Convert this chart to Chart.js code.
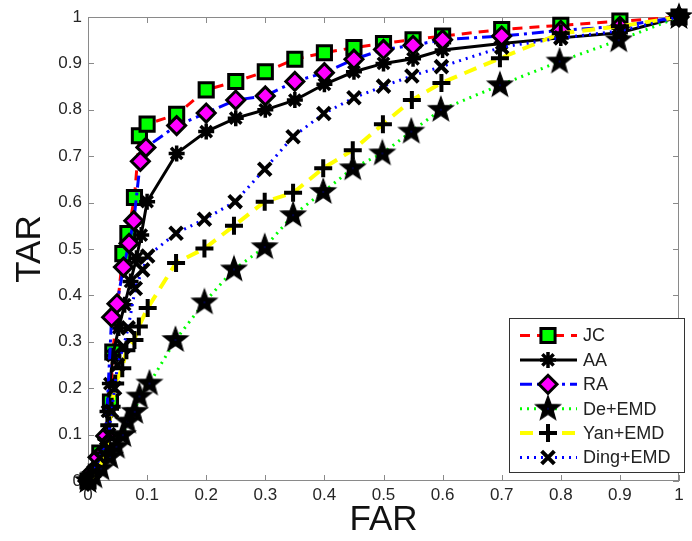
<!DOCTYPE html>
<html><head><meta charset="utf-8">
<script src="https://cdn.jsdelivr.net/npm/chart.js"></script>
<style>html,body{margin:0;padding:0;background:#fff}</style>
</head><body>
<canvas id="c" width="692" height="541"></canvas>
<script>
// ---- data ----
const seriesNames = ['JC', 'AA', 'RA', 'De+EMD', 'Yan+EMD', 'Ding+EMD'];

const jcFar = [0, 0.02, 0.038, 0.042, 0.059, 0.0675, 0.0786, 0.087, 0.1, 0.15, 0.2, 0.25, 0.3, 0.35, 0.4, 0.45, 0.5, 0.55, 0.6, 0.7, 0.8, 0.9, 1];
const jcTar = [0, 0.06, 0.17, 0.278, 0.49, 0.533, 0.611, 0.744, 0.769, 0.79, 0.843, 0.861, 0.882, 0.909, 0.923, 0.934, 0.943, 0.951, 0.959, 0.973, 0.982, 0.991, 1];

const aaFar = [0, 0.01, 0.02, 0.03, 0.033, 0.037, 0.042, 0.052, 0.062, 0.072, 0.082, 0.09, 0.1, 0.15, 0.2, 0.25, 0.3, 0.35, 0.4, 0.45, 0.5, 0.55, 0.6, 0.7, 0.8, 0.9, 1];
const aaTar = [0, 0.02, 0.05, 0.09, 0.15, 0.21, 0.27, 0.33, 0.38, 0.43, 0.48, 0.53, 0.602, 0.706, 0.753, 0.782, 0.80, 0.821, 0.855, 0.882, 0.90, 0.91, 0.929, 0.943, 0.955, 0.966, 1];

const raFar = [0, 0.008, 0.017, 0.03, 0.04, 0.049, 0.06, 0.0695, 0.0775, 0.0886, 0.098, 0.15, 0.2, 0.25, 0.3, 0.35, 0.4, 0.45, 0.5, 0.55, 0.6, 0.7, 0.8, 0.9, 1];
const raTar = [0, 0.02, 0.051, 0.097, 0.353, 0.382, 0.461, 0.512, 0.561, 0.689, 0.719, 0.766, 0.793, 0.821, 0.83, 0.861, 0.88, 0.909, 0.93, 0.939, 0.951, 0.959, 0.971, 0.98, 1];

const deFar = [0, 0.01, 0.022, 0.037, 0.048, 0.059, 0.067, 0.079, 0.087, 0.104, 0.148, 0.197, 0.247, 0.299, 0.347, 0.398, 0.448, 0.498, 0.547, 0.597, 0.697, 0.798, 0.898, 1];
const deTar = [0, 0.01, 0.027, 0.052, 0.074, 0.099, 0.128, 0.149, 0.182, 0.21, 0.304, 0.385, 0.456, 0.504, 0.573, 0.623, 0.674, 0.706, 0.753, 0.80, 0.853, 0.904, 0.95, 1];

const yanFar = [0, 0.015, 0.03, 0.036, 0.04, 0.046, 0.058, 0.065, 0.0786, 0.086, 0.101, 0.149, 0.197, 0.247, 0.299, 0.347, 0.398, 0.448, 0.499, 0.548, 0.598, 0.697, 0.8, 0.9, 1];
const yanTar = [0, 0.02, 0.06, 0.12, 0.16, 0.21, 0.243, 0.282, 0.304, 0.333, 0.373, 0.47, 0.501, 0.55, 0.602, 0.621, 0.674, 0.713, 0.769, 0.821, 0.858, 0.911, 0.965, 0.98, 1];

const dingFar = [0, 0.01, 0.02, 0.028, 0.035, 0.04, 0.045, 0.05, 0.06, 0.068, 0.08, 0.0925, 0.101, 0.149, 0.197, 0.249, 0.299, 0.347, 0.399, 0.45, 0.5, 0.548, 0.598, 0.7, 0.8, 0.9, 1];
const dingTar = [0, 0.02, 0.05, 0.08, 0.1, 0.15, 0.2, 0.25, 0.29, 0.33, 0.415, 0.455, 0.485, 0.534, 0.564, 0.602, 0.672, 0.742, 0.792, 0.826, 0.851, 0.873, 0.893, 0.935, 0.955, 0.97, 1];

const xTickValues = [0, 0.1, 0.2, 0.3, 0.4, 0.5, 0.6, 0.7, 0.8, 0.9, 1];
const xTickLabels = ['0', '0.1', '0.2', '0.3', '0.4', '0.5', '0.6', '0.7', '0.8', '0.9', '1'];
const yTickValues = [0, 0.1, 0.2, 0.3, 0.4, 0.5, 0.6, 0.7, 0.8, 0.9, 1];
const yTickLabels = ['0', '0.1', '0.2', '0.3', '0.4', '0.5', '0.6', '0.7', '0.8', '0.9', '1'];
const xTitle = 'FAR';
const yTitle = 'TAR';

// ---- styles ----
function makePentagram() {
  const c = document.createElement('canvas');
  c.width = 30; c.height = 30;
  const g = c.getContext('2d');
  g.beginPath();
  for (let i = 0; i < 10; i++) {
    const r = i % 2 ? 5.4 : 13;
    const a = -Math.PI / 2 + i * Math.PI / 5;
    g.lineTo(15 + r * Math.cos(a), 15 + r * Math.sin(a));
  }
  g.closePath();
  g.fillStyle = '#000'; g.fill();
  g.lineWidth = 1.2; g.strokeStyle = '#000'; g.lineJoin = 'miter'; g.stroke();
  g.fillStyle = '#0000ff'; g.fillRect(14.5, 14.5, 1, 1);
  return c;
}
const pentagram = makePentagram();

const seriesStyles = [
  {color: '#ff0000', dash: [10, 7], width: 3, ps: 'rect', r: 10, pbw: 3, pbg: '#00ff00'},
  {color: '#000000', dash: [], width: 3, ps: 'star', r: 8, pbw: 3.5, pbg: '#000000'},
  {color: '#0000ff', dash: [12, 5, 3, 5], width: 3, ps: 'rectRot', r: 9, pbw: 3, pbg: '#ff00ff'},
  {color: '#00ff00', dash: [2, 5], width: 3, ps: pentagram, r: 13, pbw: 0, pbg: '#000000'},
  {color: '#ffff00', dash: [13, 8], width: 4, ps: 'cross', r: 9, pbw: 4, pbg: '#000000'},
  {color: '#0000ff', dash: [2, 5], width: 3, ps: 'crossRot', r: 9, pbw: 4, pbg: '#000000'}
];

const seriesData = [[jcFar, jcTar], [aaFar, aaTar], [raFar, raTar], [deFar, deTar], [yanFar, yanTar], [dingFar, dingTar]];

const datasets = seriesData.map(([fx, ty], i) => {
  const s = seriesStyles[i];
  return {
    label: seriesNames[i],
    data: fx.map((x, k) => ({x: x, y: ty[k]})),
    showLine: true,
    tension: 0,
    borderColor: s.color,
    borderWidth: s.width,
    borderDash: s.dash,
    pointStyle: s.ps,
    pointRadius: s.r,
    pointBorderWidth: s.pbw,
    pointBorderColor: '#000000',
    pointBackgroundColor: s.pbg,
    clip: false,
    order: seriesNames.length - 1 - i
  };
});

const FONT = "'Liberation Sans', Arial, Helvetica, sans-serif";

const axesBox = {
  id: 'axesBox',
  beforeDatasetsDraw(chart) {
    const {ctx, chartArea: a, scales: {x, y}} = chart;
    ctx.save();
    ctx.strokeStyle = '#8a8a8a';
    ctx.lineWidth = 1;
    ctx.setLineDash([]);
    ctx.strokeRect(a.left + 0.5, a.top + 0.5, a.right - a.left - 1, a.bottom - a.top - 1);
    ctx.beginPath();
    xTickValues.forEach(v => {
      const px = Math.round(x.getPixelForValue(v)) + 0.5;
      ctx.moveTo(px, a.bottom); ctx.lineTo(px, a.bottom - 6);
      ctx.moveTo(px, a.top); ctx.lineTo(px, a.top + 6);
    });
    yTickValues.forEach(v => {
      const py = Math.round(y.getPixelForValue(v)) + 0.5;
      ctx.moveTo(a.left, py); ctx.lineTo(a.left + 6, py);
      ctx.moveTo(a.right, py); ctx.lineTo(a.right - 6, py);
    });
    ctx.stroke();
    ctx.restore();
  }
};

const boxLegend = {
  id: 'boxLegend',
  afterDraw(chart) {
    const ctx = chart.ctx;
    const bx = 509, by = 318, bw = 175, bh = 154;
    ctx.save();
    ctx.fillStyle = '#ffffff';
    ctx.fillRect(bx, by, bw, bh);
    ctx.strokeStyle = '#333333';
    ctx.lineWidth = 1;
    ctx.strokeRect(bx + 0.5, by + 0.5, bw, bh);
    chart.data.datasets.forEach((ds, i) => {
      const yy = by + 17.5 + i * 24.4;
      ctx.save();
      ctx.strokeStyle = ds.borderColor;
      ctx.lineWidth = ds.borderWidth;
      ctx.setLineDash(ds.borderDash);
      ctx.beginPath();
      ctx.moveTo(520, yy); ctx.lineTo(577, yy);
      ctx.stroke();
      ctx.restore();
      ctx.save();
      ctx.setLineDash([]);
      ctx.fillStyle = ds.pointBackgroundColor;
      ctx.strokeStyle = ds.pointBorderColor;
      ctx.lineWidth = ds.pointBorderWidth;
      Chart.helpers.drawPoint(ctx, {pointStyle: ds.pointStyle, radius: ds.pointRadius, rotation: 0, borderWidth: ds.pointBorderWidth}, 548, yy);
      ctx.restore();
      ctx.fillStyle = '#222222';
      ctx.font = '18px ' + FONT;
      ctx.textBaseline = 'middle';
      ctx.textAlign = 'left';
      ctx.fillText(ds.label, 583, yy + 1);
    });
    ctx.restore();
  }
};

new Chart(document.getElementById('c'), {
  type: 'scatter',
  data: {datasets: datasets},
  options: {
    responsive: false,
    animation: false,
    layout: {padding: {top: 17, right: 6, left: 0, bottom: 0}},
    plugins: {legend: {display: false}, tooltip: {enabled: false}},
    scales: {
      x: {
        type: 'linear', min: 0, max: 1,
        afterBuildTicks: s => { s.ticks = xTickValues.map(v => ({value: v})); },
        afterFit: s => { s.height = 60; },
        grid: {display: false, drawTicks: false},
        border: {display: false},
        ticks: {
          autoSkip: false, maxRotation: 0, padding: 4,
          color: '#262626', font: {family: FONT, size: 17},
          callback: (v, i) => xTickLabels[i]
        },
        title: {display: true, text: xTitle, color: '#111111',
          font: {family: FONT, size: 35, lineHeight: 1}, padding: {top: 0, bottom: 3}}
      },
      y: {
        type: 'linear', min: 0, max: 1,
        afterBuildTicks: s => { s.ticks = yTickValues.map(v => ({value: v})); },
        afterFit: s => { s.width = 88; },
        grid: {display: false, drawTicks: false},
        border: {display: false},
        ticks: {
          autoSkip: false, padding: 6,
          color: '#262626', font: {family: FONT, size: 17},
          callback: (v, i) => yTickLabels[i]
        },
        title: {display: true, text: yTitle, color: '#111111',
          font: {family: FONT, size: 35, lineHeight: 1}, padding: {top: 13, bottom: 0}}
      }
    }
  },
  plugins: [axesBox, boxLegend]
});
</script>
</body></html>
